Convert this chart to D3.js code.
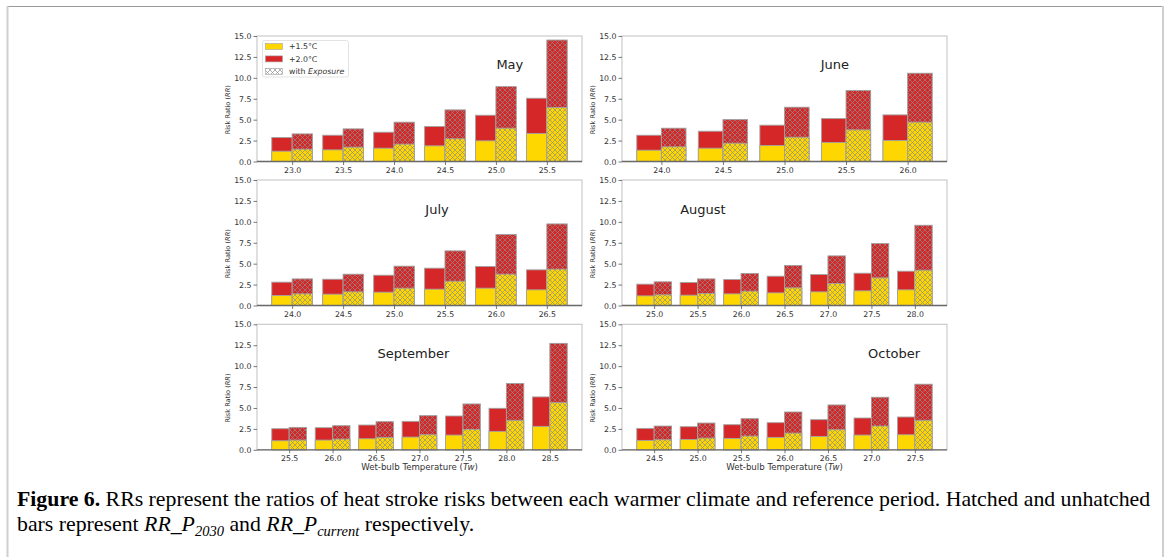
<!DOCTYPE html>
<html>
<head>
<meta charset="utf-8">
<script src="https://cdn.jsdelivr.net/npm/d3@7"></script>
<style>
  body { margin: 0; background: #fff; }
  svg { display: block; }
</style>
</head>
<body>
<svg id="figure" width="1167" height="557"></svg>
<script>

//-------------------Données-----------------------------------------------------------

var mois = ["May", "June", "July", "August", "September", "October"];

var twMai = [23.0, 23.5, 24.0, 24.5, 25.0, 25.5];
var mai15 = [1.23, 1.39, 1.59, 1.87, 2.47, 3.34];
var mai20 = [2.87, 3.14, 3.50, 4.18, 5.53, 7.56];
var mai15Expo = [1.47, 1.71, 2.07, 2.71, 3.98, 6.45];
var mai20Expo = [3.30, 3.90, 4.70, 6.17, 8.95, 14.52];

var twJuin = [24.0, 24.5, 25.0, 25.5, 26.0];
var juin15 = [1.35, 1.59, 1.91, 2.27, 2.51];
var juin20 = [3.14, 3.62, 4.34, 5.13, 5.57];
var juin15Expo = [1.75, 2.19, 2.90, 3.78, 4.70];
var juin20Expo = [3.98, 5.01, 6.49, 8.48, 10.55];

var twJuillet = [24.0, 24.5, 25.0, 25.5, 26.0, 26.5];
var juillet15 = [1.19, 1.35, 1.59, 1.95, 2.07, 1.87];
var juillet20 = [2.79, 3.14, 3.62, 4.46, 4.66, 4.26];
var juillet15Expo = [1.39, 1.63, 2.07, 2.90, 3.74, 4.34];
var juillet20Expo = [3.18, 3.74, 4.70, 6.53, 8.48, 9.75];

var twAout = [25.0, 25.5, 26.0, 26.5, 27.0, 27.5, 28.0];
var aout15 = [1.15, 1.23, 1.39, 1.51, 1.63, 1.75, 1.87];
var aout20 = [2.55, 2.75, 3.10, 3.50, 3.70, 3.86, 4.10];
var aout15Expo = [1.27, 1.43, 1.71, 2.11, 2.63, 3.30, 4.22];
var aout20Expo = [2.83, 3.18, 3.82, 4.78, 5.93, 7.40, 9.59];

var twSeptembre = [25.5, 26.0, 26.5, 27.0, 27.5, 28.0, 28.5];
var septembre15 = [1.08, 1.16, 1.32, 1.52, 1.76, 2.20, 2.80];
var septembre20 = [2.52, 2.64, 2.96, 3.40, 4.04, 4.96, 6.32];
var septembre15Expo = [1.16, 1.28, 1.48, 1.80, 2.44, 3.52, 5.64];
var septembre20Expo = [2.68, 2.88, 3.36, 4.08, 5.48, 7.92, 12.72];

var twOctobre = [24.5, 25.0, 25.5, 26.0, 26.5, 27.0, 27.5];
var octobre15 = [1.12, 1.24, 1.36, 1.48, 1.60, 1.76, 1.80];
var octobre20 = [2.56, 2.76, 3.00, 3.24, 3.60, 3.80, 3.92];
var octobre15Expo = [1.20, 1.40, 1.64, 2.00, 2.40, 2.84, 3.52];
var octobre20Expo = [2.84, 3.20, 3.72, 4.52, 5.36, 6.28, 7.84];

var graduationsY = [0, 2.5, 5, 7.5, 10, 12.5, 15];
var legende = ["+1.5°C", "+2.0°C", "with "];

//-------------------Mise en page----------------------------------------

var jaune = "#ffd700";
var rouge = "#d62728";
var bord = "#a3a3a3";
var police = "'DejaVu Sans', sans-serif";

var colX = [257, 622];
var ligneY = [36, 180, 324.3];
var largeur = 325;
var hauteur = 125.5;
var largeurBarre = 0.4;

// position des titres de mois, en fraction du panneau
var posTitres = [[0.778, 0.265], [0.655, 0.265], [0.554, 0.273], [0.249, 0.273], [0.481, 0.266], [0.837, 0.266]];

var panneaux = [
    {nom: mois[0], tw: twMai, r15: mai15, r20: mai20, e15: mai15Expo, e20: mai20Expo},
    {nom: mois[1], tw: twJuin, r15: juin15, r20: juin20, e15: juin15Expo, e20: juin20Expo},
    {nom: mois[2], tw: twJuillet, r15: juillet15, r20: juillet20, e15: juillet15Expo, e20: juillet20Expo},
    {nom: mois[3], tw: twAout, r15: aout15, r20: aout20, e15: aout15Expo, e20: aout20Expo},
    {nom: mois[4], tw: twSeptembre, r15: septembre15, r20: septembre20, e15: septembre15Expo, e20: septembre20Expo},
    {nom: mois[5], tw: twOctobre, r15: octobre15, r20: octobre20, e15: octobre15Expo, e20: octobre20Expo}
];

var svg = d3.select("#figure");

//-------------------Motif de hachures----------------------------------------

var defs = svg.append("defs");
defs.append("pattern")
    .attr("id", "hachures")
    .attr("width", 5)
    .attr("height", 5)
    .attr("patternUnits", "userSpaceOnUse")
    .append("path")
    .attr("d", "M0,0 L5,5 M5,0 L0,5 M-1,4 L1,6 M4,-1 L6,1 M-1,1 L1,-1 M4,6 L6,4")
    .attr("stroke", "#8c8c8c")
    .attr("stroke-width", 0.7)
    .attr("fill", "none");

//-------------------Cadre de la page----------------------------------------

svg.append("line").attr("x1", 7).attr("x2", 1163).attr("y1", 6.5).attr("y2", 6.5)
    .attr("stroke", "#9a9a9a").attr("stroke-width", 1);
svg.append("line").attr("x1", 7.5).attr("x2", 7.5).attr("y1", 6).attr("y2", 557)
    .attr("stroke", "#cfcfcf").attr("stroke-width", 2);
svg.append("line").attr("x1", 1163).attr("x2", 1163).attr("y1", 6).attr("y2", 557)
    .attr("stroke", "#cfcfcf").attr("stroke-width", 2);

//-------------------Dessin d'un panneau----------------------------------------

function dessinerBarres(g, valeurs, x, y, decalage, couleur, hachure) {
    var sel = g.append("g").selectAll("rect")
        .data(valeurs)
        .join("rect")
        .attr("x", (d, i) => x(i + decalage))
        .attr("width", x(largeurBarre) - x(0))
        .attr("y", d => y(d))
        .attr("height", d => y(0) - y(d))
        .attr("fill", couleur)
        .attr("stroke", bord)
        .attr("stroke-width", 0.9);
    if (hachure) {
        g.append("g").selectAll("rect")
            .data(valeurs)
            .join("rect")
            .attr("x", (d, i) => x(i + decalage))
            .attr("width", x(largeurBarre) - x(0))
            .attr("y", d => y(d))
            .attr("height", d => y(0) - y(d))
            .attr("fill", "url(#hachures)");
    }
    return sel;
}

function dessinerPanneau(p, k) {
    var x0 = colX[k % 2];
    var y0 = ligneY[Math.floor(k / 2)];
    var n = p.tw.length;
    var etendue = (n - 1) + 2 * largeurBarre;

    var x = d3.scaleLinear()
        .domain([-largeurBarre - 0.05 * etendue, n - 1 + largeurBarre + 0.05 * etendue])
        .range([x0, x0 + largeur]);
    var y = d3.scaleLinear().domain([0, 15]).range([y0 + hauteur, y0]);

    var g = svg.append("g");

    // cadre de l'axe
    g.append("rect")
        .attr("x", x0).attr("y", y0)
        .attr("width", largeur).attr("height", hauteur)
        .attr("fill", "none")
        .attr("stroke", "#c6c6c6")
        .attr("stroke-width", 1.1);

    // barres sans exposition puis avec exposition
    dessinerBarres(g, p.r20, x, y, -largeurBarre, rouge, false);
    dessinerBarres(g, p.r15, x, y, -largeurBarre, jaune, false);
    dessinerBarres(g, p.e20, x, y, 0, rouge, true);
    dessinerBarres(g, p.e15, x, y, 0, jaune, true);

    g.append("line")
        .attr("x1", x0).attr("x2", x0 + largeur)
        .attr("y1", y0 + hauteur).attr("y2", y0 + hauteur)
        .attr("stroke", "#6a6a6a")
        .attr("stroke-width", 1.3);

    // axes
    var axeY = g.append("g")
        .attr("transform", "translate(" + x0 + ",0)")
        .call(d3.axisLeft(y).tickValues(graduationsY).tickFormat(d3.format(".1f")).tickSize(3.5).tickPadding(2));
    var axeX = g.append("g")
        .attr("transform", "translate(0," + (y0 + hauteur) + ")")
        .call(d3.axisBottom(x).tickValues(d3.range(n)).tickFormat(i => p.tw[i].toFixed(1)).tickSize(3.5).tickPadding(2));

    [axeY, axeX].forEach(function (a) {
        a.select(".domain").remove();
        a.selectAll(".tick line").attr("stroke", "#555").attr("stroke-width", 0.8);
        a.selectAll(".tick text")
            .attr("fill", "#333")
            .style("font-family", police)
            .style("font-size", "7.8px");
    });

    // titre de l'axe Y
    var ty = g.append("text")
        .attr("transform", "translate(" + (x0 - 27) + "," + (y0 + hauteur / 2 + 11) + ") rotate(-90)")
        .attr("text-anchor", "middle")
        .attr("fill", "#333")
        .style("font-family", police)
        .style("font-size", "6.6px");
    ty.append("tspan").text("Risk Ratio (");
    ty.append("tspan").style("font-style", "italic").text("RR");
    ty.append("tspan").text(")");

    // titre de l'axe X sur la dernière ligne
    if (k >= 4) {
        var tx = g.append("text")
            .attr("x", x0 + largeur / 2)
            .attr("y", y0 + hauteur + 20.5)
            .attr("text-anchor", "middle")
            .attr("fill", "#333")
            .style("font-family", police)
            .style("font-size", "8.6px");
        tx.append("tspan").text("Wet-bulb Temperature (");
        tx.append("tspan").style("font-style", "italic").text("Tw");
        tx.append("tspan").text(")");
    }

    // nom du mois
    g.append("text")
        .attr("x", x0 + largeur * posTitres[k][0])
        .attr("y", y0 + hauteur * posTitres[k][1])
        .attr("text-anchor", "middle")
        .attr("fill", "#222")
        .style("font-family", police)
        .style("font-size", "13px")
        .text(p.nom);
}

panneaux.forEach(dessinerPanneau);

//-------------------Légende du premier panneau----------------------------------------

var leg = svg.append("g");
leg.append("rect")
    .attr("x", 262.5).attr("y", 40.5)
    .attr("width", 86).attr("height", 36.5)
    .attr("rx", 2)
    .attr("fill", "#fff")
    .attr("fill-opacity", 0.85)
    .attr("stroke", "#dcdcdc")
    .attr("stroke-width", 0.8);

var lignesLegende = [
    {fond: jaune, hach: false},
    {fond: rouge, hach: false},
    {fond: "#fff", hach: true}
];
lignesLegende.forEach(function (l, i) {
    var yy = 46.5 + i * 12.4;
    leg.append("rect")
        .attr("x", 265.5).attr("y", yy - 3)
        .attr("width", 17).attr("height", 6)
        .attr("fill", l.fond)
        .attr("stroke", bord)
        .attr("stroke-width", 0.6);
    if (l.hach) {
        leg.append("rect")
            .attr("x", 265.5).attr("y", yy - 3)
            .attr("width", 17).attr("height", 6)
            .attr("fill", "url(#hachures)");
    }
    var t = leg.append("text")
        .attr("x", 289)
        .attr("y", yy + 2.8)
        .attr("fill", "#333")
        .style("font-family", police)
        .style("font-size", "7.8px")
        .text(legende[i]);
    if (l.hach) {
        t.append("tspan").style("font-style", "italic").text("Exposure");
    }
});

//-------------------Légende de la figure----------------------------------------

var serif = "'Liberation Serif', 'Times New Roman', serif";
var l1 = svg.append("text")
    .attr("x", 17).attr("y", 506)
    .attr("fill", "#000")
    .style("font-family", serif)
    .style("font-size", "21.8px");
l1.append("tspan").style("font-weight", "bold").text("Figure 6.");
l1.append("tspan").text(" RRs represent the ratios of heat stroke risks between each warmer climate and reference period. Hatched and unhatched");

var l2 = svg.append("text")
    .attr("x", 17).attr("y", 531)
    .attr("fill", "#000")
    .style("font-family", serif)
    .style("font-size", "21.8px");
l2.append("tspan").text("bars represent ");
l2.append("tspan").style("font-style", "italic").text("RR_P");
l2.append("tspan").style("font-style", "italic").style("font-size", "14.5px").attr("dy", 4.5).text("2030");
l2.append("tspan").attr("dy", -4.5).text(" and ");
l2.append("tspan").style("font-style", "italic").text("RR_P");
l2.append("tspan").style("font-style", "italic").style("font-size", "14.5px").attr("dy", 4.5).text("current");
l2.append("tspan").attr("dy", -4.5).text(" respectively.");

</script>
</body>
</html>
